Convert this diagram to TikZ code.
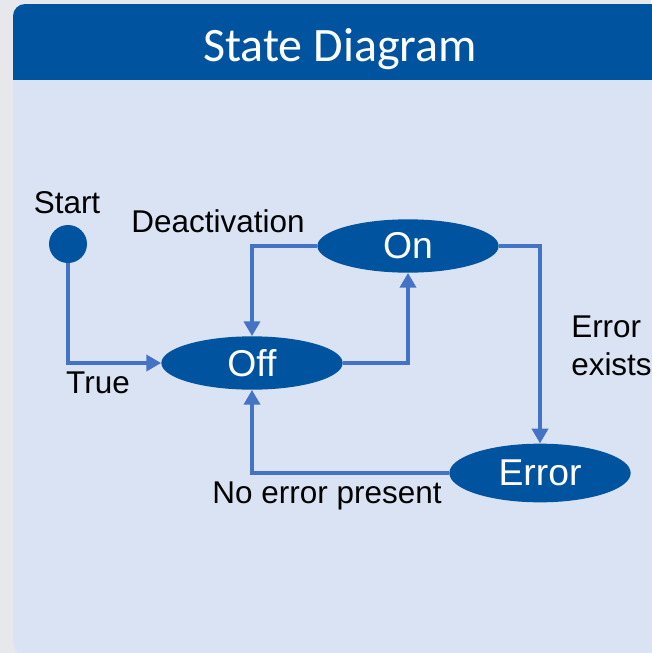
\documentclass[tikz,border=0pt]{standalone}
\usepackage{fontspec}
\setmainfont{Liberation Sans}
\newfontfamily\titlefont{Carlito}
\usepackage{xcolor}
\definecolor{sdnavy}{RGB}{0,84,159}
\definecolor{sdpanel}{RGB}{218,227,243}
\definecolor{sdline}{RGB}{68,114,196}
\definecolor{sdframe}{RGB}{231,232,235}
\usetikzlibrary{arrows.meta, shapes.geometric}

\begin{document}
\begin{tikzpicture}[x=0.75pt, y=-0.75pt,
  state/.style={ellipse, fill=sdnavy, text=white, inner sep=0pt,
                minimum width=136pt, minimum height=40pt,
                font=\fontsize{28}{32}\selectfont},
  lbl/.style={anchor=base, inner sep=0pt, font=\fontsize{23.6}{28.5}\selectfont},
  flow/.style={draw=sdline, line width=2.6pt, -{Triangle[length=11pt, width=12pt]}}]

\useasboundingbox (0,0) rectangle (651,653);
\fill[sdframe] (0,0) rectangle (651,653);

% --- Panel with title bar ---
\begin{scope}
  \clip[rounded corners=9pt] (13,4) rectangle (680,655);
  \fill[sdpanel] (13,4) rectangle (680,655);
  \fill[sdnavy] (13,4) rectangle (680,80);
\end{scope}
\node[anchor=base, text=white, inner sep=0pt,
      font=\titlefont\fontsize{36}{40}\selectfont] (title) at (340,61) {State Diagram};

% --- States ---
\node[circle, fill=sdnavy, minimum size=28.5pt, inner sep=0pt] (start) at (68,244) {};
\node[state] (off) at (252,363) {Off};
\node[state] (on) at (408,246) {On};
\node[state, minimum height=44pt] (error) at (540,473) {Error};

% --- Transitions ---
\draw[flow] (start) |- (off);
\draw[flow] (off) -| (on);
\draw[flow] (on) -| (off);
\draw[flow] (on) -| (error);
\draw[flow] (error) -| (off);

% --- Labels ---
\node[lbl] (startlbl) at (67,213) {Start};
\node[lbl] (deact) at (218,232) {Deactivation};
\node[lbl] (truelbl) at (98,393) {True};
\node[lbl, anchor=base west, align=left] (errlbl) at (571,375) {Error\\exists};
\node[lbl] (noerr) at (327,503) {No error present};

\end{tikzpicture}
\end{document}
